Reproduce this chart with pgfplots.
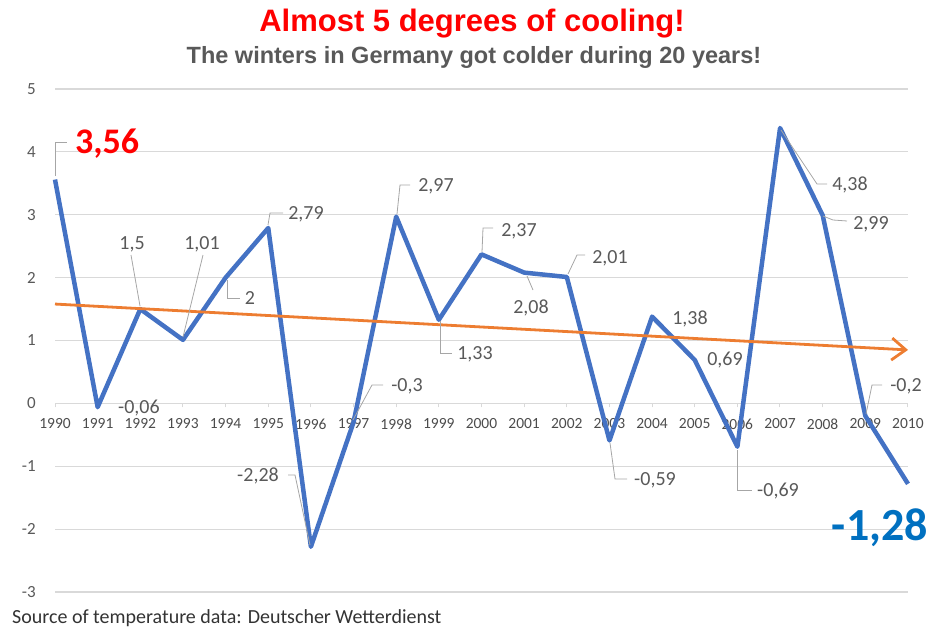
\documentclass[border=0pt]{standalone}
\usepackage{pgfplots}
\pgfplotsset{compat=1.18}
\usetikzlibrary{arrows.meta}
\usepackage{fontspec}
\setmainfont{Carlito}
\newfontfamily\arialfont{Liberation Sans}
\definecolor{lineblue}{HTML}{4472C4}
\definecolor{trendorange}{HTML}{ED7D31}
\definecolor{gridgray}{HTML}{D9D9D9}
\definecolor{lblgray}{HTML}{595959}
\definecolor{leadgray}{HTML}{A6A6A6}
\definecolor{bigblue}{HTML}{0070C0}
\definecolor{srcgray}{HTML}{333333}
\begin{document}
\begin{tikzpicture}
\path[use as bounding box] (0,0) rectangle (929pt,-629pt);
\begin{axis}[
  at={(55pt,-592pt)}, anchor=south west,
  scale only axis, width=853pt, height=503pt,
  xmin=1990, xmax=2010, ymin=-3, ymax=5,
  axis x line*=middle, axis y line*=left,
  hide obscured x ticks=false,
  axis line style={draw=none},
  clip=false,
  xtick={1990,...,2010},
  xticklabels={1990,1991,1992,1993,1994,1995,1996,1997,1998,1999,2000,2001,2002,2003,2004,2005,2006,2007,2008,2009,2010},
  ytick={-3,-2,-1,0,1,2,3,4,5},
  yticklabels={-3,-2,-1,0,1,2,3,4,5},
  ymajorgrids, grid style={gridgray, line width=1.2pt},
  major tick length=4pt,
  xtick style={draw=gridgray, line width=1pt},
  ytick style={draw=none},
  tick align=outside,
  xticklabel style={font=\fontsize{15.5}{18}\selectfont, text=lblgray!85!black, inner sep=0pt, anchor=north, yshift=-11pt},
  yticklabel style={font=\fontsize{17}{20}\selectfont, text=lblgray, inner sep=0pt, anchor=east, xshift=-15pt},
]
\addplot[lineblue, line width=4.5pt, line join=round, mark=none] coordinates {
(1990,3.56) (1991,-0.06) (1992,1.5) (1993,1.01) (1994,2) (1995,2.79) (1996,-2.28)
(1997,-0.3) (1998,2.97) (1999,1.33) (2000,2.37) (2001,2.08) (2002,2.01) (2003,-0.59)
(2004,1.38) (2005,0.69) (2006,-0.69) (2007,4.38) (2008,2.99) (2009,-0.2) (2010,-1.28)};
\addplot[trendorange, line width=2.8pt, mark=none, -{Straight Barb[length=14pt,width=22pt]}] coordinates {(1990,1.58) (2010,0.85)};
\end{axis}
\begin{scope}[x=1pt,y=-1pt, lab/.style={font=\fontsize{20}{24}\selectfont, text=lblgray, inner sep=0pt, anchor=base}, lead/.style={draw=leadgray, line width=0.8pt}]
% titles
\node[font=\arialfont\bfseries\fontsize{31}{36}\selectfont, text=red, inner sep=0pt, anchor=base] at (472,31) {Almost 5 degrees of cooling!};
\node[font=\arialfont\bfseries\fontsize{23.5}{28}\selectfont, text=lblgray, inner sep=0pt, anchor=base] at (474,63) {The winters in Germany got colder during 20 years!};
\node[font=\fontsize{20}{24}\selectfont, text=srcgray, inner sep=0pt, anchor=base west] at (12,623) {Source of temperature data: Deutscher Wetterdienst};
% leader lines
\draw[lead] (55,176) -- (55,142) -- (67,142);
\draw[lead] (140,306) -- (131,255);
\draw[lead] (183,337) -- (203,255);
\draw[lead] (227,280) -- (227,298) -- (240,298);
\draw[lead] (268,225) -- (270,213) -- (283,213);
\draw[lead] (310,545) -- (295,475) -- (288,475);
\draw[lead] (353,420) -- (372,385) -- (383,385);
\draw[lead] (397,214) -- (400,185) -- (410,185);
\draw[lead] (440,321) -- (440,353) -- (452,353);
\draw[lead] (482,252) -- (483,228) -- (493,228);
\draw[lead] (527,276) -- (533,290);
\draw[lead] (568,274) -- (577,255) -- (585,255);
\draw[lead] (610,443) -- (615,479) -- (627,479);
\draw[lead] (737,450) -- (737,490) -- (752,490);
\draw[lead] (781,130) -- (817,184) -- (827,184);
\draw[lead] (823,216) -- (833,220) -- (847,221);
\draw[lead] (866,414) -- (872,385) -- (882,385);
% labels
\node[font=\bfseries\fontsize{36}{40}\selectfont, text=red, inner sep=0pt, anchor=base west] at (75,153) {3,56};
\node[font=\bfseries\fontsize{46}{50}\selectfont, text=bigblue, inner sep=0pt, anchor=base east] at (928,540) {-1,28};
\node[lab] at (132,249) {1,5};
\node[lab] at (139,413) {-0,06};
\node[lab] at (202,249) {1,01};
\node[lab] at (250,304) {2};
\node[lab] at (306,219) {2,79};
\node[lab] at (258,481) {-2,28};
\node[lab] at (407,391) {-0,3};
\node[lab] at (436,191) {2,97};
\node[lab] at (475,359) {1,33};
\node[lab] at (519,236) {2,37};
\node[lab] at (531,313) {2,08};
\node[lab] at (610,263) {2,01};
\node[lab] at (655,485) {-0,59};
\node[lab] at (690,324) {1,38};
\node[lab] at (725,365) {0,69};
\node[lab] at (778,496) {-0,69};
\node[lab] at (850,190) {4,38};
\node[lab] at (871,229) {2,99};
\node[lab] at (906,391) {-0,2};
\end{scope}
\end{tikzpicture}
\end{document}
